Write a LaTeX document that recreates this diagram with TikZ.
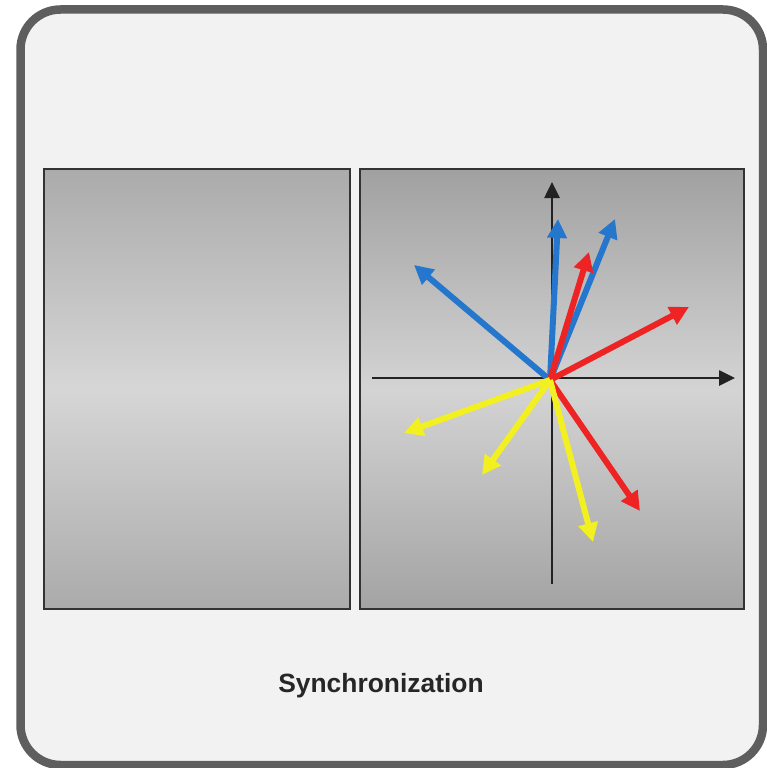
\documentclass[tikz,border=0pt]{standalone}
\usepackage{fontspec}
\setmainfont{Liberation Sans}
\usetikzlibrary{positioning,arrows.meta}
\definecolor{frameGray}{HTML}{5E5E5E}
\definecolor{paperGray}{HTML}{F2F2F2}
\definecolor{panelEdge}{HTML}{333333}
\definecolor{axisBlack}{HTML}{222222}
\definecolor{vecBlue}{HTML}{2477CC}
\definecolor{vecRed}{HTML}{EE2424}
\definecolor{vecYellow}{HTML}{F2F020}
\definecolor{titleText}{HTML}{262626}

\begin{document}
\begin{tikzpicture}[
  x=1pt, y=-1pt,
  panel/.style={draw=panelEdge, line width=2pt, minimum height=440pt, inner sep=0pt},
  axis/.style={draw=axisBlack, line width=2.6pt, -{Triangle[length=16pt,width=15pt]}},
  vec/.style={line width=6pt, -{Triangle[length=19pt,width=19pt]}},
]
\useasboundingbox (0,0) rectangle (767,768);

% Outer frame
\draw[frameGray, line width=8.5pt, fill=paperGray, rounded corners=40pt] (20.5,9.5) rectangle (763,765);

% Two panels
\node[panel, minimum width=306pt, top color=black!33, bottom color=black!33, middle color=black!16] (leftpanel) at (197,388.5) {};
\node[panel, minimum width=384pt, top color=black!37, bottom color=black!36, middle color=black!17] (rightpanel) at (552,389) {};

% Axes
\coordinate (xa) at (372,378);
\coordinate (xb) at (735,378);
\coordinate (ya) at (552,584);
\coordinate (yb) at (552,182);
\draw[axis] (xa) -- (xb);
\draw[axis] (ya) -- (yb);

% Vectors
\coordinate (o) at (550,380);
\coordinate (b1) at (414,265);
\coordinate (b2) at (558,219);
\coordinate (b3) at (615,219);
\coordinate (r1) at (589,252);
\coordinate (r2) at (689,307);
\coordinate (r3) at (640,511);
\coordinate (y1) at (404,433);
\coordinate (y2) at (482,475);
\coordinate (y3) at (593,542);
\foreach \t in {b1,b2,b3} \draw[vec, vecBlue] (o) -- (\t);
\foreach \t in {r1,r2,r3} \draw[vec, vecRed] (o) -- (\t);
\foreach \t in {y1,y2,y3} \draw[vec, vecYellow] (o) -- (\t);

% Caption
\node[font=\bfseries\fontsize{26.4}{30}\selectfont, text=titleText] (caption) at (381,686) {Synchronization};

\end{tikzpicture}
\end{document}
